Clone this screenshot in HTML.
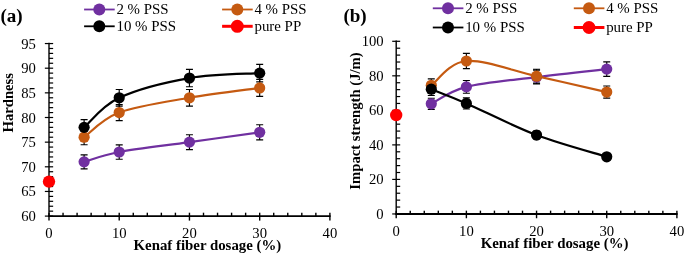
<!DOCTYPE html>
<html><head><meta charset="utf-8"><title>Chart</title>
<style>
html,body{margin:0;padding:0;background:#fff;}
body{width:685px;height:255px;overflow:hidden;}
svg{display:block;font-family:"Liberation Serif",serif;will-change:transform;}
</style></head><body>
<svg width="685" height="255" viewBox="0 0 685 255">
<rect width="685" height="255" fill="#fff"/>
<g stroke="#000" stroke-width="1.40" fill="none" shape-rendering="auto">
<path d="M49.00 42.85 V216.80"/>
<path d="M48.30 216.10 H330.60" stroke-width="1.80"/>
</g>
<g stroke="#000" stroke-width="1.20" fill="none">
<path d="M44.85 216.10 H53.15"/>
<path d="M49.00 211.17 H53.15"/>
<path d="M49.00 206.24 H53.15"/>
<path d="M49.00 201.31 H53.15"/>
<path d="M49.00 196.38 H53.15"/>
<path d="M44.85 191.45 H53.15"/>
<path d="M49.00 186.52 H53.15"/>
<path d="M49.00 181.59 H53.15"/>
<path d="M49.00 176.66 H53.15"/>
<path d="M49.00 171.73 H53.15"/>
<path d="M44.85 166.80 H53.15"/>
<path d="M49.00 161.87 H53.15"/>
<path d="M49.00 156.94 H53.15"/>
<path d="M49.00 152.01 H53.15"/>
<path d="M49.00 147.08 H53.15"/>
<path d="M44.85 142.15 H53.15"/>
<path d="M49.00 137.22 H53.15"/>
<path d="M49.00 132.29 H53.15"/>
<path d="M49.00 127.36 H53.15"/>
<path d="M49.00 122.43 H53.15"/>
<path d="M44.85 117.50 H53.15"/>
<path d="M49.00 112.57 H53.15"/>
<path d="M49.00 107.64 H53.15"/>
<path d="M49.00 102.71 H53.15"/>
<path d="M49.00 97.78 H53.15"/>
<path d="M44.85 92.85 H53.15"/>
<path d="M49.00 87.92 H53.15"/>
<path d="M49.00 82.99 H53.15"/>
<path d="M49.00 78.06 H53.15"/>
<path d="M49.00 73.13 H53.15"/>
<path d="M44.85 68.20 H53.15"/>
<path d="M49.00 63.27 H53.15"/>
<path d="M49.00 58.34 H53.15"/>
<path d="M49.00 53.41 H53.15"/>
<path d="M49.00 48.48 H53.15"/>
<path d="M44.85 43.55 H53.15"/>
<path d="M49.00 212.70 V220.60" stroke-width="1.4"/>
<path d="M63.05 212.70 V216.10" stroke-width="1.4"/>
<path d="M77.09 212.70 V216.10" stroke-width="1.4"/>
<path d="M91.13 212.70 V216.10" stroke-width="1.4"/>
<path d="M105.18 212.70 V216.10" stroke-width="1.4"/>
<path d="M119.22 212.70 V220.60" stroke-width="1.4"/>
<path d="M133.27 212.70 V216.10" stroke-width="1.4"/>
<path d="M147.31 212.70 V216.10" stroke-width="1.4"/>
<path d="M161.36 212.70 V216.10" stroke-width="1.4"/>
<path d="M175.41 212.70 V216.10" stroke-width="1.4"/>
<path d="M189.45 212.70 V220.60" stroke-width="1.4"/>
<path d="M203.50 212.70 V216.10" stroke-width="1.4"/>
<path d="M217.54 212.70 V216.10" stroke-width="1.4"/>
<path d="M231.59 212.70 V216.10" stroke-width="1.4"/>
<path d="M245.63 212.70 V216.10" stroke-width="1.4"/>
<path d="M259.68 212.70 V220.60" stroke-width="1.4"/>
<path d="M273.72 212.70 V216.10" stroke-width="1.4"/>
<path d="M287.76 212.70 V216.10" stroke-width="1.4"/>
<path d="M301.81 212.70 V216.10" stroke-width="1.4"/>
<path d="M315.86 212.70 V216.10" stroke-width="1.4"/>
<path d="M329.90 212.70 V220.60" stroke-width="1.4"/>
</g>
<g font-size="14.67" fill="#000">
<text x="35.90" y="221.10" text-anchor="end">60</text>
<text x="35.90" y="196.45" text-anchor="end">65</text>
<text x="35.90" y="171.80" text-anchor="end">70</text>
<text x="35.90" y="147.15" text-anchor="end">75</text>
<text x="35.90" y="122.50" text-anchor="end">80</text>
<text x="35.90" y="97.85" text-anchor="end">85</text>
<text x="35.90" y="73.20" text-anchor="end">90</text>
<text x="35.90" y="48.55" text-anchor="end">95</text>
<text x="49.00" y="238.00" text-anchor="middle">0</text>
<text x="119.22" y="238.00" text-anchor="middle">10</text>
<text x="189.45" y="238.00" text-anchor="middle">20</text>
<text x="259.68" y="238.00" text-anchor="middle">30</text>
<text x="329.90" y="238.00" text-anchor="middle">40</text>
</g>
<text x="207.40" y="250.00" text-anchor="middle" font-weight="bold" font-size="14.85">Kenaf fiber dosage (%)</text>
<text transform="translate(12.70 102.75) rotate(-90)" text-anchor="middle" font-weight="bold" font-size="14.67">Hardness</text>
<g stroke="#000" stroke-width="1.15" fill="none">
<path d="M84.11 154.87 V168.87 M80.61 154.87 H87.61 M80.61 168.87 H87.61"/>
<path d="M119.22 144.81 V159.21 M115.72 144.81 H122.72 M115.72 159.21 H122.72"/>
<path d="M189.45 134.75 V149.55 M185.95 134.75 H192.95 M185.95 149.55 H192.95"/>
<path d="M259.68 124.70 V139.88 M256.18 124.70 H263.18 M256.18 139.88 H263.18"/>
<path d="M84.11 129.73 V144.71 M80.61 129.73 H87.61 M80.61 144.71 H87.61"/>
<path d="M119.22 104.58 V120.56 M115.72 104.58 H122.72 M115.72 120.56 H122.72"/>
<path d="M189.45 89.50 V106.06 M185.95 89.50 H192.95 M185.95 106.06 H192.95"/>
<path d="M259.68 79.44 V96.40 M256.18 79.44 H263.18 M256.18 96.40 H263.18"/>
<path d="M84.11 119.67 V135.05 M80.61 119.67 H87.61 M80.61 135.05 H87.61"/>
<path d="M119.22 89.50 V106.06 M115.72 89.50 H122.72 M115.72 106.06 H122.72"/>
<path d="M189.45 69.38 V86.74 M185.95 69.38 H192.95 M185.95 86.74 H192.95"/>
<path d="M259.68 64.35 V81.91 M256.18 64.35 H263.18 M256.18 81.91 H263.18"/>
</g>
<path d="M84.11 161.87 C89.96 160.23 101.67 155.30 119.22 152.01 C136.78 148.72 166.04 145.44 189.45 142.15 C212.86 138.86 247.97 133.93 259.68 132.29" stroke="#7030A0" stroke-width="2.20" fill="none" stroke-linecap="round"/>
<circle cx="84.11" cy="161.87" r="5.60" fill="#7030A0"/>
<circle cx="119.22" cy="152.01" r="5.60" fill="#7030A0"/>
<circle cx="189.45" cy="142.15" r="5.60" fill="#7030A0"/>
<circle cx="259.68" cy="132.29" r="5.60" fill="#7030A0"/>
<path d="M84.11 137.22 C89.96 133.11 101.67 119.14 119.22 112.57 C136.78 106.00 166.04 101.89 189.45 97.78 C212.86 93.67 247.97 89.56 259.68 87.92" stroke="#C55A11" stroke-width="2.20" fill="none" stroke-linecap="round"/>
<circle cx="84.11" cy="137.22" r="5.60" fill="#C55A11"/>
<circle cx="119.22" cy="112.57" r="5.60" fill="#C55A11"/>
<circle cx="189.45" cy="97.78" r="5.60" fill="#C55A11"/>
<circle cx="259.68" cy="87.92" r="5.60" fill="#C55A11"/>
<path d="M84.11 127.36 C89.96 122.43 101.67 106.00 119.22 97.78 C136.78 89.56 166.04 82.17 189.45 78.06 C212.86 73.95 247.97 73.95 259.68 73.13" stroke="#000000" stroke-width="2.20" fill="none" stroke-linecap="round"/>
<circle cx="84.11" cy="127.36" r="5.60" fill="#000000"/>
<circle cx="119.22" cy="97.78" r="5.60" fill="#000000"/>
<circle cx="189.45" cy="78.06" r="5.60" fill="#000000"/>
<circle cx="259.68" cy="73.13" r="5.60" fill="#000000"/>
<circle cx="49.00" cy="181.59" r="6.20" fill="#FF0000"/>
<path d="M84.10 9.50 H114.70" stroke="#7030A0" stroke-width="1.80"/>
<circle cx="99.30" cy="9.50" r="6.00" fill="#7030A0"/>
<text x="116.45" y="13.70" font-size="14.90">2 % PSS</text>
<path d="M84.10 26.30 H114.70" stroke="#000000" stroke-width="1.80"/>
<circle cx="99.30" cy="26.30" r="6.00" fill="#000000"/>
<text x="116.45" y="30.50" font-size="14.90">10 % PSS</text>
<path d="M222.10 9.50 H252.70" stroke="#C55A11" stroke-width="1.80"/>
<circle cx="237.30" cy="9.50" r="6.00" fill="#C55A11"/>
<text x="254.45" y="13.70" font-size="14.90">4 % PSS</text>
<path d="M222.10 26.30 H252.70" stroke="#FF0000" stroke-width="3.00"/>
<circle cx="237.30" cy="26.30" r="6.50" fill="#FF0000"/>
<text x="254.45" y="30.50" font-size="14.90">pure PP</text>
<text x="0.40" y="21.60" font-weight="bold" font-size="19.1">(a)</text>
<g stroke="#000" stroke-width="1.40" fill="none" shape-rendering="auto">
<path d="M396.20 40.60 V214.65"/>
<path d="M395.50 213.95 H677.60" stroke-width="2.00"/>
</g>
<g stroke="#000" stroke-width="1.20" fill="none">
<path d="M392.20 213.95 H400.20"/>
<path d="M396.20 207.04 H400.20"/>
<path d="M396.20 200.14 H400.20"/>
<path d="M396.20 193.23 H400.20"/>
<path d="M396.20 186.33 H400.20"/>
<path d="M392.20 179.42 H400.20"/>
<path d="M396.20 172.51 H400.20"/>
<path d="M396.20 165.61 H400.20"/>
<path d="M396.20 158.70 H400.20"/>
<path d="M396.20 151.80 H400.20"/>
<path d="M392.20 144.89 H400.20"/>
<path d="M396.20 137.98 H400.20"/>
<path d="M396.20 131.08 H400.20"/>
<path d="M396.20 124.17 H400.20"/>
<path d="M396.20 117.27 H400.20"/>
<path d="M392.20 110.36 H400.20"/>
<path d="M396.20 103.45 H400.20"/>
<path d="M396.20 96.55 H400.20"/>
<path d="M396.20 89.64 H400.20"/>
<path d="M396.20 82.74 H400.20"/>
<path d="M392.20 75.83 H400.20"/>
<path d="M396.20 68.92 H400.20"/>
<path d="M396.20 62.02 H400.20"/>
<path d="M396.20 55.11 H400.20"/>
<path d="M396.20 48.21 H400.20"/>
<path d="M392.20 41.30 H400.20"/>
<path d="M396.20 210.65 V218.25" stroke-width="1.4"/>
<path d="M410.24 210.65 V213.95" stroke-width="1.4"/>
<path d="M424.27 210.65 V213.95" stroke-width="1.4"/>
<path d="M438.31 210.65 V213.95" stroke-width="1.4"/>
<path d="M452.34 210.65 V213.95" stroke-width="1.4"/>
<path d="M466.38 210.65 V218.25" stroke-width="1.4"/>
<path d="M480.41 210.65 V213.95" stroke-width="1.4"/>
<path d="M494.44 210.65 V213.95" stroke-width="1.4"/>
<path d="M508.48 210.65 V213.95" stroke-width="1.4"/>
<path d="M522.51 210.65 V213.95" stroke-width="1.4"/>
<path d="M536.55 210.65 V218.25" stroke-width="1.4"/>
<path d="M550.59 210.65 V213.95" stroke-width="1.4"/>
<path d="M564.62 210.65 V213.95" stroke-width="1.4"/>
<path d="M578.65 210.65 V213.95" stroke-width="1.4"/>
<path d="M592.69 210.65 V213.95" stroke-width="1.4"/>
<path d="M606.73 210.65 V218.25" stroke-width="1.4"/>
<path d="M620.76 210.65 V213.95" stroke-width="1.4"/>
<path d="M634.79 210.65 V213.95" stroke-width="1.4"/>
<path d="M648.83 210.65 V213.95" stroke-width="1.4"/>
<path d="M662.87 210.65 V213.95" stroke-width="1.4"/>
<path d="M676.90 210.65 V218.25" stroke-width="1.4"/>
</g>
<g font-size="14.67" fill="#000">
<text x="383.70" y="218.95" text-anchor="end">0</text>
<text x="383.70" y="184.42" text-anchor="end">20</text>
<text x="383.70" y="149.89" text-anchor="end">40</text>
<text x="383.70" y="115.36" text-anchor="end">60</text>
<text x="383.70" y="80.83" text-anchor="end">80</text>
<text x="383.70" y="46.30" text-anchor="end">100</text>
<text x="396.20" y="236.00" text-anchor="middle">0</text>
<text x="466.38" y="236.00" text-anchor="middle">10</text>
<text x="536.55" y="236.00" text-anchor="middle">20</text>
<text x="606.73" y="236.00" text-anchor="middle">30</text>
<text x="676.90" y="236.00" text-anchor="middle">40</text>
</g>
<text x="554.60" y="248.00" text-anchor="middle" font-weight="bold" font-size="14.85">Kenaf fiber dosage (%)</text>
<text transform="translate(359.80 121.00) rotate(-90)" text-anchor="middle" font-weight="bold" font-size="14.67">Impact strength (J/m)</text>
<g stroke="#000" stroke-width="1.15" fill="none">
<path d="M431.29 98.29 V109.31 M427.79 98.29 H434.79 M427.79 109.31 H434.79"/>
<path d="M466.38 80.53 V93.23 M462.88 80.53 H469.88 M462.88 93.23 H469.88"/>
<path d="M536.55 70.19 V83.88 M533.05 70.19 H540.05 M533.05 83.88 H540.05"/>
<path d="M606.73 61.85 V76.34 M603.23 61.85 H610.23 M603.23 76.34 H610.23"/>
<path d="M431.29 78.89 V91.76 M427.79 78.89 H434.79 M427.79 91.76 H434.79"/>
<path d="M466.38 53.33 V68.63 M462.88 53.33 H469.88 M462.88 68.63 H469.88"/>
<path d="M536.55 69.29 V83.06 M533.05 69.29 H540.05 M533.05 83.06 H540.05"/>
<path d="M606.73 85.96 V98.15 M603.23 85.96 H610.23 M603.23 98.15 H610.23"/>
<path d="M431.29 82.97 V95.45 M427.79 82.97 H434.79 M427.79 95.45 H434.79"/>
<path d="M466.38 97.93 V108.98 M462.88 97.93 H469.88 M462.88 108.98 H469.88"/>
<path d="M536.55 131.10 V138.99 M533.05 131.10 H540.05 M533.05 138.99 H540.05"/>
<path d="M606.73 153.95 V159.66 M603.23 153.95 H610.23 M603.23 159.66 H610.23"/>
</g>
<path d="M431.29 103.80 C437.14 100.98 448.83 91.34 466.38 86.88 C483.92 82.42 513.16 80.00 536.55 77.04 C559.94 74.07 595.03 70.42 606.73 69.10" stroke="#7030A0" stroke-width="2.20" fill="none" stroke-linecap="round"/>
<circle cx="431.29" cy="103.80" r="5.60" fill="#7030A0"/>
<circle cx="466.38" cy="86.88" r="5.60" fill="#7030A0"/>
<circle cx="536.55" cy="77.04" r="5.60" fill="#7030A0"/>
<circle cx="606.73" cy="69.10" r="5.60" fill="#7030A0"/>
<path d="M431.29 85.33 C437.14 81.27 448.83 62.51 466.38 60.98 C483.92 59.46 513.16 71.00 536.55 76.18 C559.94 81.35 595.03 89.41 606.73 92.06" stroke="#C55A11" stroke-width="2.20" fill="none" stroke-linecap="round"/>
<circle cx="431.29" cy="85.33" r="5.60" fill="#C55A11"/>
<circle cx="466.38" cy="60.98" r="5.60" fill="#C55A11"/>
<circle cx="536.55" cy="76.18" r="5.60" fill="#C55A11"/>
<circle cx="606.73" cy="92.06" r="5.60" fill="#C55A11"/>
<path d="M431.29 89.21 C437.14 91.58 448.83 95.81 466.38 103.45 C483.92 111.09 513.16 126.16 536.55 135.05 C559.94 143.94 595.03 153.18 606.73 156.80" stroke="#000000" stroke-width="2.20" fill="none" stroke-linecap="round"/>
<circle cx="431.29" cy="89.21" r="5.60" fill="#000000"/>
<circle cx="466.38" cy="103.45" r="5.60" fill="#000000"/>
<circle cx="536.55" cy="135.05" r="5.60" fill="#000000"/>
<circle cx="606.73" cy="156.80" r="5.60" fill="#000000"/>
<circle cx="396.20" cy="115.02" r="6.20" fill="#FF0000"/>
<path d="M432.80 8.30 H463.40" stroke="#7030A0" stroke-width="1.80"/>
<circle cx="448.00" cy="8.30" r="6.00" fill="#7030A0"/>
<text x="465.15" y="12.70" font-size="14.90">2 % PSS</text>
<path d="M432.80 27.50 H463.40" stroke="#000000" stroke-width="1.80"/>
<circle cx="448.00" cy="27.50" r="6.00" fill="#000000"/>
<text x="465.15" y="31.70" font-size="14.90">10 % PSS</text>
<path d="M573.80 8.30 H604.40" stroke="#C55A11" stroke-width="1.80"/>
<circle cx="589.00" cy="8.30" r="6.00" fill="#C55A11"/>
<text x="606.15" y="12.70" font-size="14.90">4 % PSS</text>
<path d="M573.80 27.50 H604.40" stroke="#FF0000" stroke-width="3.00"/>
<circle cx="589.00" cy="27.50" r="6.50" fill="#FF0000"/>
<text x="606.15" y="31.70" font-size="14.90">pure PP</text>
<text x="343.40" y="21.90" font-weight="bold" font-size="19.1">(b)</text>
</svg>
</body></html>
